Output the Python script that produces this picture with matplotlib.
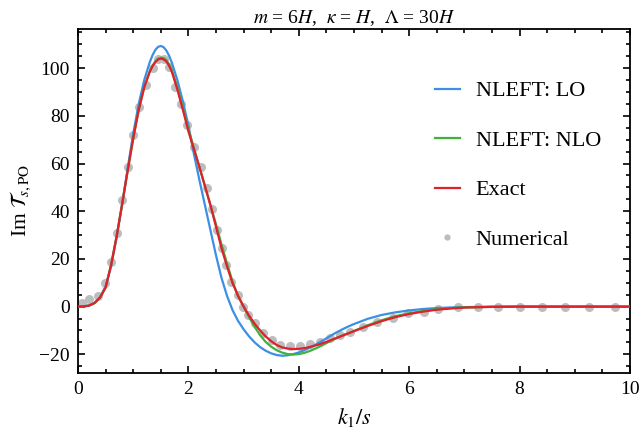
import numpy as np
import matplotlib
matplotlib.use("Agg")
import matplotlib.pyplot as plt
from matplotlib.ticker import MultipleLocator

plt.rcParams['font.family'] = ['Liberation Serif', 'DejaVu Serif']
plt.rcParams['mathtext.fontset'] = 'stix'

# curves
x_curve = [0.0, 0.1, 0.2, 0.3, 0.4, 0.5, 0.6, 0.7, 0.8, 0.9,
           1.0, 1.1, 1.2, 1.3, 1.35, 1.4, 1.45, 1.5, 1.55, 1.6, 1.65, 1.7, 1.8, 1.9,
           2.0, 2.1, 2.2, 2.3, 2.4, 2.5, 2.6, 2.7, 2.8, 2.9,
           3.0, 3.1, 3.2, 3.3, 3.4, 3.5, 3.6, 3.7, 3.8, 3.9,
           4.0, 4.1, 4.2, 4.3, 4.4, 4.5, 4.6, 4.7, 4.8, 4.9,
           5.0, 5.25, 5.5, 5.75, 6.0, 6.25, 6.5, 6.75, 7.0, 7.5,
           8.0, 9.0, 10.0]

lo = [0.0, 0.1, 0.5, 1.6, 4.0, 8.5, 17.0, 29.0, 43.0, 58.0,
      72.5, 85.0, 95.0, 102.5, 105.4, 107.6, 108.9, 109.3, 108.8, 107.4, 105.2, 102.3, 95.0, 86.0,
      76.0, 64.0, 53.0, 42.5, 32.0, 21.5, 12.0, 4.5, -1.5, -6.0,
      -9.5, -12.5, -15.0, -17.0, -18.5, -19.6, -20.3, -20.6, -20.4, -19.9,
      -19.2, -18.3, -17.2, -16.0, -14.7, -13.3, -11.9, -10.6, -9.4, -8.3,
      -7.3, -5.1, -3.5, -2.4, -1.6, -1.0, -0.6, -0.35, -0.2, -0.05,
      0.0, 0.0, 0.0]

nlo = [0.0, 0.1, 0.4, 1.5, 3.8, 8.0, 17.5, 29.5, 43.0, 57.0,
       70.5, 82.5, 92.0, 98.7, 101.0, 102.8, 104.0, 104.4, 104.2, 103.4, 101.6, 99.2, 92.0, 83.5,
       74.5, 66.5, 58.5, 50.5, 42.5, 34.5, 26.0, 18.0, 10.5, 4.5,
       0.0, -4.5, -8.5, -12.0, -14.8, -16.8, -18.3, -19.3, -19.9, -20.1,
       -19.9, -19.4, -18.6, -17.6, -16.5, -15.3, -14.1, -13.0, -12.0, -11.1,
       -10.2, -7.8, -5.7, -4.0, -2.8, -1.8, -1.1, -0.6, -0.3, -0.1,
       0.0, 0.0, 0.0]

exact = [0.0, 0.1, 0.4, 1.5, 3.8, 8.0, 17.5, 29.5, 43.0, 57.0,
         70.5, 82.5, 92.0, 98.5, 100.8, 102.5, 103.6, 104.0, 103.7, 102.8, 101.0, 98.5, 91.0, 82.5,
         73.5, 66.0, 58.5, 50.5, 42.5, 33.5, 24.5, 16.8, 9.8, 4.5,
         0.0, -3.8, -7.2, -10.0, -12.5, -14.5, -16.1, -17.1, -17.6, -17.8,
         -17.7, -17.4, -16.9, -16.3, -15.6, -14.8, -13.9, -13.0, -12.1, -11.2,
         -10.3, -8.1, -6.1, -4.4, -3.1, -2.1, -1.3, -0.8, -0.4, -0.1,
         0.0, 0.0, 0.0]

# numerical points
x_num = [0.07, 0.2, 0.36, 0.49, 0.6, 0.7, 0.8, 0.9, 1.0, 1.11,
         1.24, 1.35, 1.45, 1.55, 1.64, 1.76, 1.87, 1.98, 2.1, 2.22,
         2.33, 2.42, 2.51, 2.6, 2.69, 2.78, 2.9, 2.99, 3.08, 3.21,
         3.36, 3.51, 3.66, 3.84, 4.02, 4.2, 4.38, 4.57, 4.75, 4.93,
         5.17, 5.41, 5.71, 5.98, 6.26, 6.53, 6.89, 7.25, 7.61, 8.0,
         8.4, 8.82, 9.25, 9.73]
y_num = [1.4, 3.1, 4.5, 9.8, 18.9, 30.8, 44.5, 58.5, 72.0, 83.9,
         93.0, 100.0, 104.0, 103.8, 100.6, 92.2, 84.8, 76.2, 67.1, 58.5,
         49.6, 40.8, 32.2, 24.5, 17.5, 10.5, 4.9, 0.0, -3.5, -7.0,
         -11.2, -14.0, -16.1, -16.5, -16.5, -15.8, -14.7, -13.3, -11.9, -10.5,
         -8.4, -6.3, -4.9, -2.8, -2.1, -1.1, -0.3, 0.0, 0.0, 0.0,
         0.0, 0.0, 0.0, 0.0]

fig = plt.figure(figsize=(6.43, 4.33), dpi=100)
ax = fig.add_axes([0.1213, 0.1393, 0.8585, 0.7937])

ax.plot(x_num, y_num, 'o', color='#bdbdbd', markersize=6.5, markeredgewidth=0,
        label='Numerical', zorder=1)
ax.plot(x_curve, lo, color='#3b8fe6', lw=1.6, label='NLEFT: LO', zorder=2)
ax.plot(x_curve, nlo, color='#3cb43c', lw=1.6, label='NLEFT: NLO', zorder=3)
ax.plot(x_curve, exact, color='#e0202c', lw=1.6, label='Exact', zorder=4)

ax.set_xlim(0, 10)
ax.set_ylim(-27.7, 116.4)
ax.xaxis.set_major_locator(MultipleLocator(2))
ax.xaxis.set_minor_locator(MultipleLocator(0.5))
ax.yaxis.set_major_locator(MultipleLocator(20))
ax.yaxis.set_minor_locator(MultipleLocator(5))
ax.tick_params(which='both', direction='in', top=True, right=True,
               labelsize=14, width=1.2, pad=6)
ax.tick_params(which='major', length=5)
ax.tick_params(which='minor', length=3)
for s in ax.spines.values():
    s.set_linewidth(1.3)

ax.set_xlabel('$k_1/s$', fontsize=16, labelpad=6)
ax.set_ylabel(r'Im $\mathcal{T}_{s,\mathrm{PO}}$', fontsize=15.5, labelpad=4)
ax.set_title(r'$m$ = 6$H$,  $\kappa$ = $H$,  $\Lambda$ = 30$H$', fontsize=14, pad=4)

h, l = ax.get_legend_handles_labels()
order = [1, 2, 3, 0]
ax.legend([h[i] for i in order], [l[i] for i in order], loc='upper left',
          bbox_to_anchor=(0.63, 0.875), frameon=False, fontsize=16,
          labelspacing=1.3, handlelength=1.12, handletextpad=0.72,
          markerscale=0.7, borderaxespad=0)

fig.savefig('out.png', dpi=100)
